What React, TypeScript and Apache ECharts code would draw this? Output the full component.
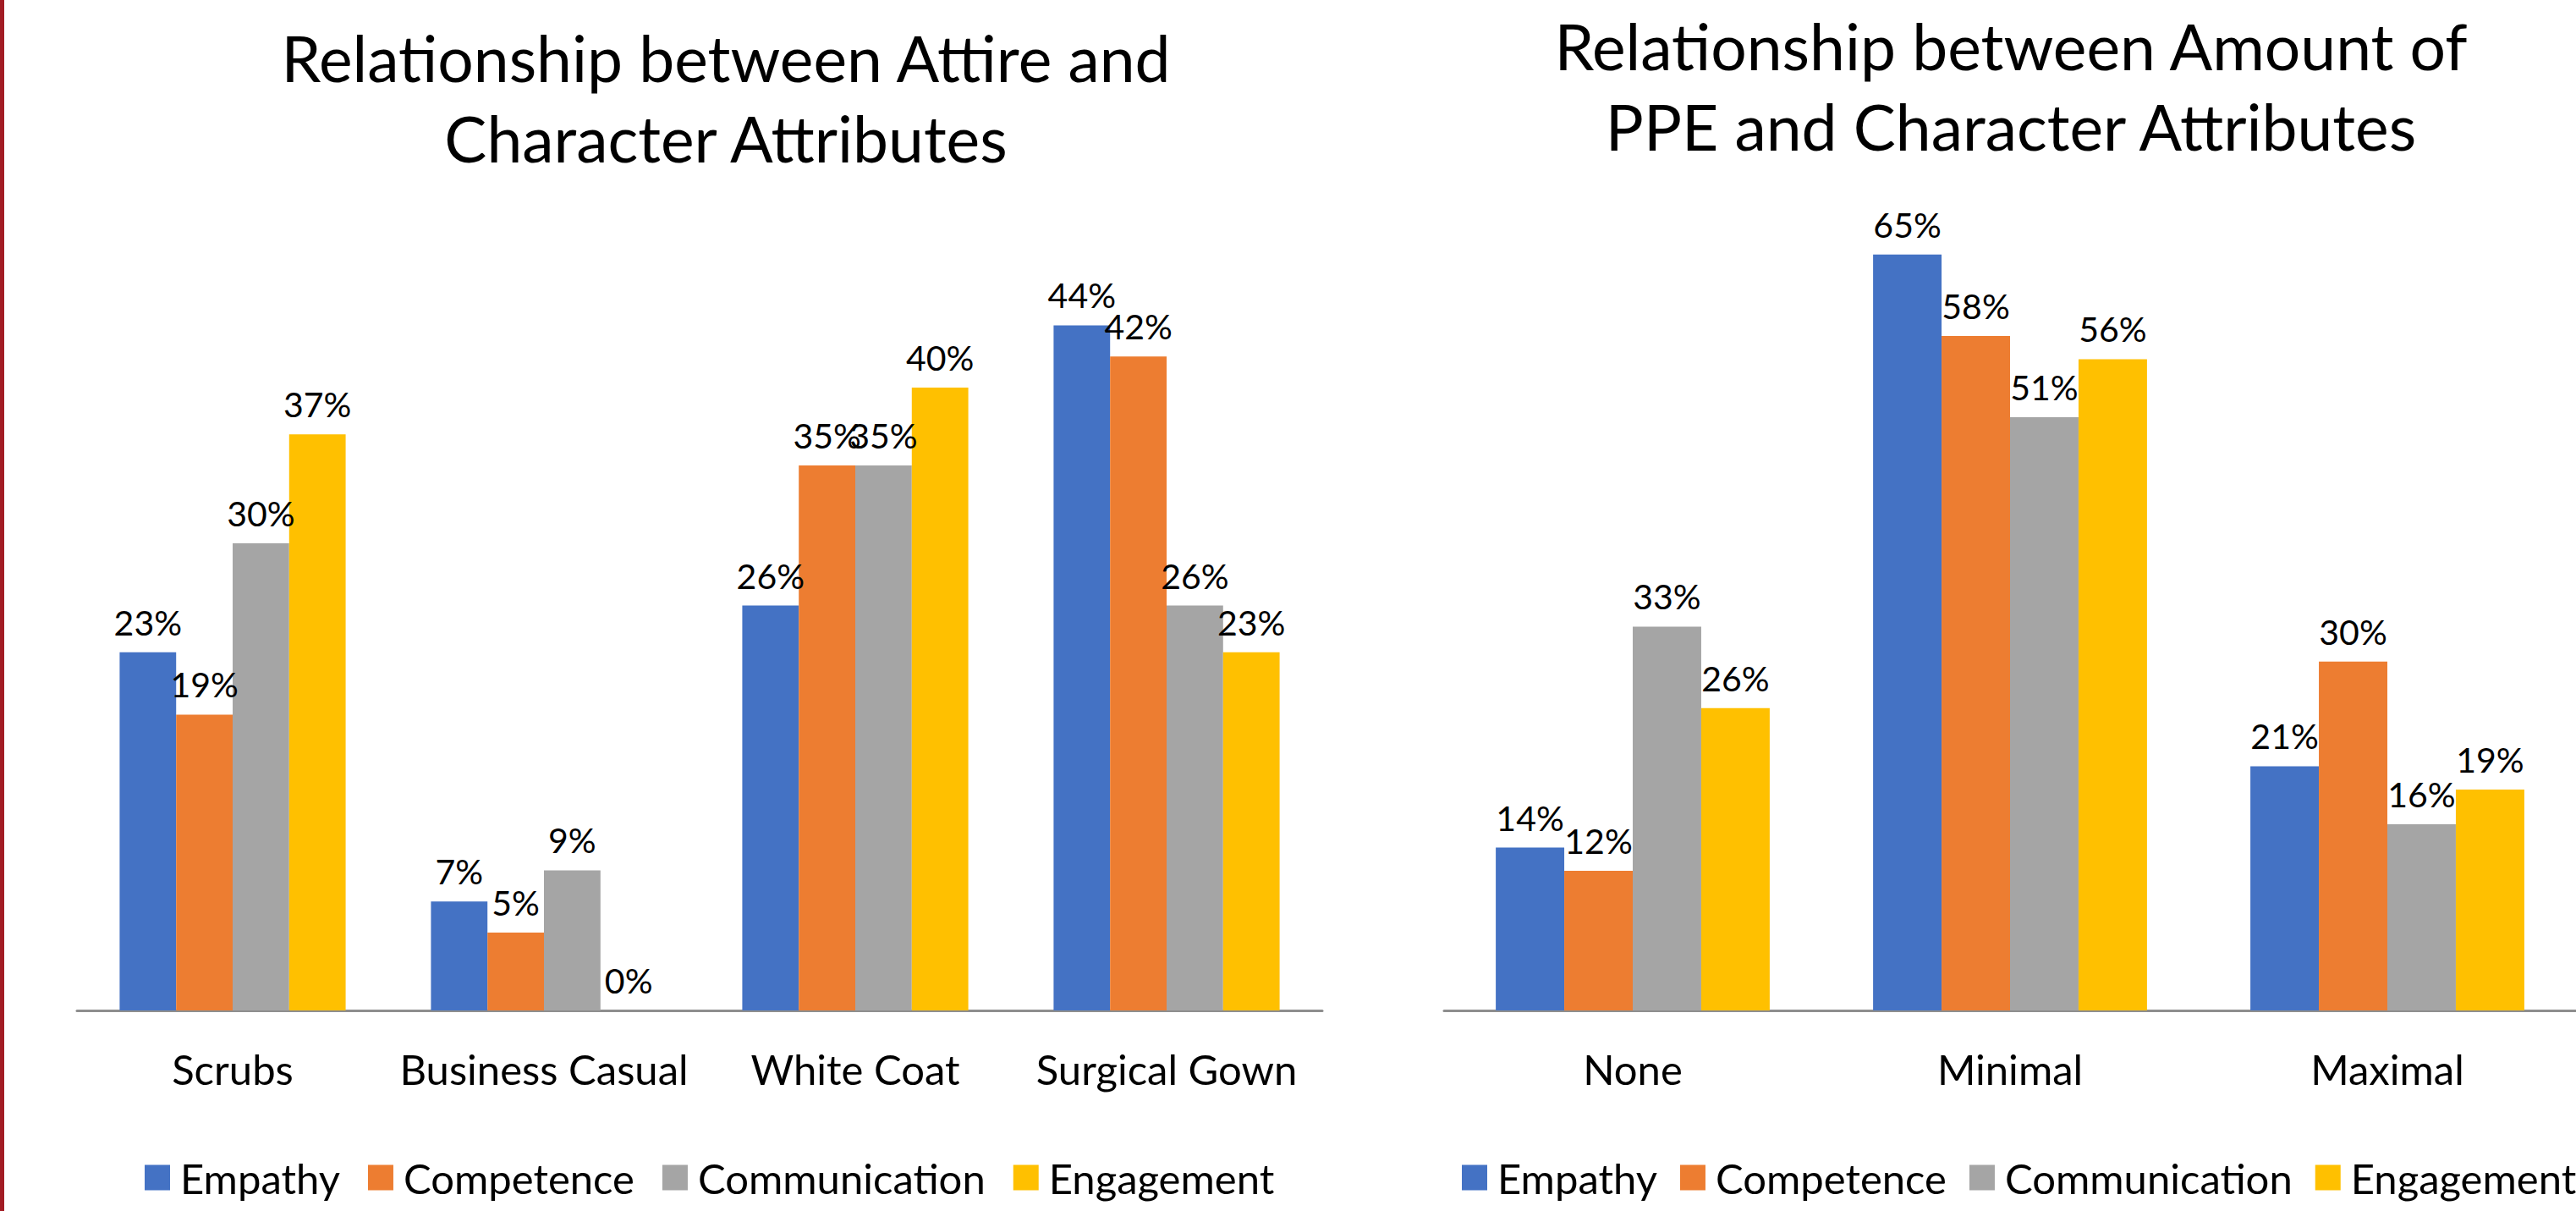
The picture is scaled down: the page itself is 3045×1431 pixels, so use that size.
import React, { useEffect, useRef } from 'react';
import * as echarts from 'echarts';

const seriesNames = ['Empathy', 'Competence', 'Communication', 'Engagement'];
const seriesColors = ['#4472C4', '#ED7D31', '#A5A5A5', '#FFC000'];

const attireCategories = ['Scrubs', 'Business Casual', 'White Coat', 'Surgical Gown'];
const attireEmpathy = [23, 7, 26, 44];
const attireCompetence = [19, 5, 35, 42];
const attireCommunication = [30, 9, 35, 26];
const attireEngagement = [37, 0, 40, 23];

const ppeCategories = ['None', 'Minimal', 'Maximal'];
const ppeEmpathy = [14, 65, 21];
const ppeCompetence = [12, 58, 30];
const ppeCommunication = [33, 51, 16];
const ppeEngagement = [26, 56, 19];

const attireTitle = ['Relationship between Attire and', 'Character Attributes'];
const ppeTitle = ['Relationship between Amount of', 'PPE and Character Attributes'];

const FONT = 'Lato, "Open Sans", sans-serif';

export default function App() {
  const ref = useRef<HTMLDivElement>(null);

  useEffect(() => {
    document.body.style.margin = '0';
    document.body.style.overflow = 'hidden';
    if (!ref.current) return;
    const chart = echarts.init(ref.current, undefined, { renderer: 'svg' });

    const attireData = [attireEmpathy, attireCompetence, attireCommunication, attireEngagement];
    const ppeData = [ppeEmpathy, ppeCompetence, ppeCommunication, ppeEngagement];

    const makeSeries = (data: number[][], idx: number) =>
      data.map((vals, i) => ({
        name: seriesNames[i],
        type: 'bar',
        xAxisIndex: idx,
        yAxisIndex: idx,
        data: vals,
        barGap: '0%',
        barCategoryGap: '27.4%',
        itemStyle: { color: seriesColors[i] },
        label: {
          show: true,
          position: 'top',
          distance: 15,
          formatter: '{c}%',
          fontFamily: FONT,
          fontSize: 41,
          color: '#000',
        },
      }));

    const axisCommon = {
      type: 'category',
      axisTick: { show: false },
      axisLine: { lineStyle: { color: '#8E8E8E', width: 3 } },
      axisLabel: { interval: 0, fontFamily: FONT, fontSize: 49, color: '#000', margin: 44 },
    };

    const legendCommon = {
      data: seriesNames,
      icon: 'rect',
      itemWidth: 30,
      itemHeight: 30,
      selectedMode: false,
      top: 1367,
      padding: 0,
      width: 2000,
      textStyle: { fontFamily: FONT, fontSize: 49, color: '#000', padding: [0, 0, 0, 7] },
    };

    const titleText = (lines: string[], cx: number, ys: number[]) =>
      lines.map((t, i) => ({
        type: 'text',
        x: cx,
        y: ys[i],
        style: {
          text: t,
          fontFamily: FONT,
          fontSize: 75,
          fill: '#000',
          textAlign: 'center',
          textVerticalAlign: 'middle',
        },
      }));

    chart.setOption({
      animation: false,
      backgroundColor: '#fff',
      grid: [
        { left: 91, top: 274, width: 1472, height: 920 },
        { left: 1707, top: 232, width: 1338, height: 962 },
      ],
      xAxis: [
        { ...axisCommon, gridIndex: 0, data: attireCategories },
        { ...axisCommon, gridIndex: 1, data: ppeCategories },
      ],
      yAxis: [
        { type: 'value', gridIndex: 0, min: 0, max: 50, show: false },
        { type: 'value', gridIndex: 1, min: 0, max: 70, show: false },
      ],
      legend: [
        { ...legendCommon, left: 171, itemGap: 33 },
        { ...legendCommon, left: 1728, itemGap: 27 },
      ],
      graphic: [
        { type: 'rect', shape: { x: 0, y: 0, width: 5, height: 1431 }, style: { fill: '#A21C24' } },
        ...titleText(attireTitle, 858, [68, 163]),
        ...titleText(ppeTitle, 2377, [54, 149]),
      ],
      series: [...makeSeries(attireData, 0), ...makeSeries(ppeData, 1)],
    });

    return () => chart.dispose();
  }, []);

  return (
    <div
      ref={ref}
      style={{ position: 'fixed', left: 0, top: 0, width: 3045, height: 1431 }}
    />
  );
}
